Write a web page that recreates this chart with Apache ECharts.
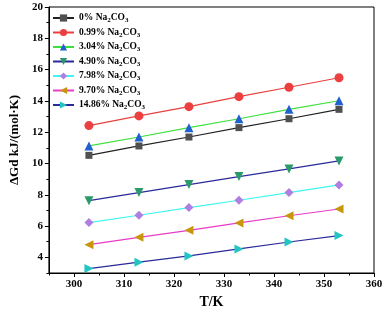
<!DOCTYPE html>
<html><head><meta charset="utf-8">
<script src="https://cdn.jsdelivr.net/npm/echarts@6/dist/echarts.min.js"></script>
<style>html,body{margin:0;padding:0;background:#fff}#c{width:387px;height:314px}</style>
</head><body><div id="c"></div>
<script>
const temps = [303, 313, 323, 333, 343, 353];
const names = ['0%', '0.99%', '3.04%', '4.90%', '7.98%', '9.70%', '14.86%'];
const s0 = [10.52, 11.12, 11.69, 12.29, 12.86, 13.46];
const s099 = [12.42, 13.04, 13.63, 14.27, 14.87, 15.48];
const s304 = [11.12, 11.69, 12.29, 12.86, 13.46, 14.01];
const s490 = [7.62, 8.14, 8.65, 9.16, 9.65, 10.16];
const s798 = [6.22, 6.69, 7.18, 7.65, 8.14, 8.63];
const s970 = [4.81, 5.28, 5.73, 6.20, 6.66, 7.09];
const s1486 = [3.28, 3.69, 4.09, 4.54, 4.98, 5.39];
const xMajor = [300, 310, 320, 330, 340, 350, 360];
const xMinor = [295, 305, 315, 325, 335, 345, 355];
const yMajor = [4, 6, 8, 10, 12, 14, 16, 18, 20];
const yMinor = [3, 5, 7, 9, 11, 13, 15, 17, 19];

const values = [s0, s099, s304, s490, s798, s970, s1486];
const lineColors = ['#222222', '#e8403d', '#3de03d', '#2a2a9a', '#3ff5f0', '#e83cc8', '#2a2a9a'];
const markColors = ['#505050', '#ec4040', '#1f62cf', '#2a9a6a', '#b07ee0', '#c8960a', '#22c4c4'];
const symbols = ['rect', 'circle', 'triangle', 'triangle', 'diamond', 'triangle', 'triangle'];
const rotates = [0, 0, 0, 180, 0, 90, -90];
const sizes = [7, 9, 9, 9, 9, 9, 9];

const font = 'Liberation Serif';
const series = values.map((v, i) => ({
  name: names[i], type: 'line',
  data: temps.map((t, j) => [t, v[j]]),
  symbol: symbols[i], symbolRotate: rotates[i], symbolSize: sizes[i],
  lineStyle: { color: lineColors[i], width: 1.2 },
  itemStyle: { color: markColors[i] },
  z: 10 - i
}));

const chart = echarts.init(document.getElementById('c'));
const baseX = { type: 'value', min: 295, max: 360, interval: 5 };
const baseY = { type: 'value', min: 3, max: 20, interval: 1 };
chart.setOption({
  animation: false,
  grid: { left: 44, right: 13, top: 7, bottom: 40, show: true, borderColor: '#000', borderWidth: 1 },
  legend: {
    left: 47, top: 8, orient: 'vertical', itemGap: 3.5, itemWidth: 21, itemHeight: 9,
    data: names,
    formatter: n => '{a|' + n + ' Na}{s|2}{a|CO}{s|3}',
    textStyle: {
      fontFamily: font, fontWeight: 'bold', fontSize: 9.5, color: '#000',
      rich: {
        a: { fontFamily: font, fontWeight: 'bold', fontSize: 9.5, color: '#000' },
        s: { fontFamily: font, fontWeight: 'bold', fontSize: 7, color: '#000', padding: [5, 0, 0, 0] }
      }
    }
  },
  xAxis: [
    Object.assign({}, baseX, {
      name: 'T/K', nameLocation: 'middle', nameGap: 22,
      nameTextStyle: { fontFamily: font, fontWeight: 'bold', fontSize: 14, color: '#000' },
      axisLine: { show: true, onZero: false, lineStyle: { color: '#000', width: 1 } },
      axisTick: { show: true, length: 4, customValues: xMajor, lineStyle: { color: '#000' } },
      axisLabel: { customValues: xMajor, fontFamily: font, fontWeight: 'bold', fontSize: 11, color: '#000', margin: 6 },
      splitLine: { show: false }
    }),
    Object.assign({}, baseX, {
      position: 'bottom',
      axisLine: { show: false },
      axisTick: { show: true, length: 2.5, customValues: xMinor, lineStyle: { color: '#000' } },
      axisLabel: { show: false }, splitLine: { show: false }
    })
  ],
  yAxis: [
    Object.assign({}, baseY, {
      name: 'ΔGd kJ/(mol·K)', nameLocation: 'middle', nameGap: 27, nameRotate: 90,
      nameTextStyle: { fontFamily: font, fontWeight: 'bold', fontSize: 13, color: '#000' },
      axisLine: { show: true, onZero: false, lineStyle: { color: '#000', width: 1 } },
      axisTick: { show: true, length: 4, customValues: yMajor, lineStyle: { color: '#000' } },
      axisLabel: { customValues: yMajor, fontFamily: font, fontWeight: 'bold', fontSize: 11, color: '#000', margin: 6 },
      splitLine: { show: false }
    }),
    Object.assign({}, baseY, {
      position: 'left',
      axisLine: { show: false },
      axisTick: { show: true, length: 2.5, customValues: yMinor, lineStyle: { color: '#000' } },
      axisLabel: { show: false }, splitLine: { show: false }
    })
  ],
  series: series
});
</script></body></html>
